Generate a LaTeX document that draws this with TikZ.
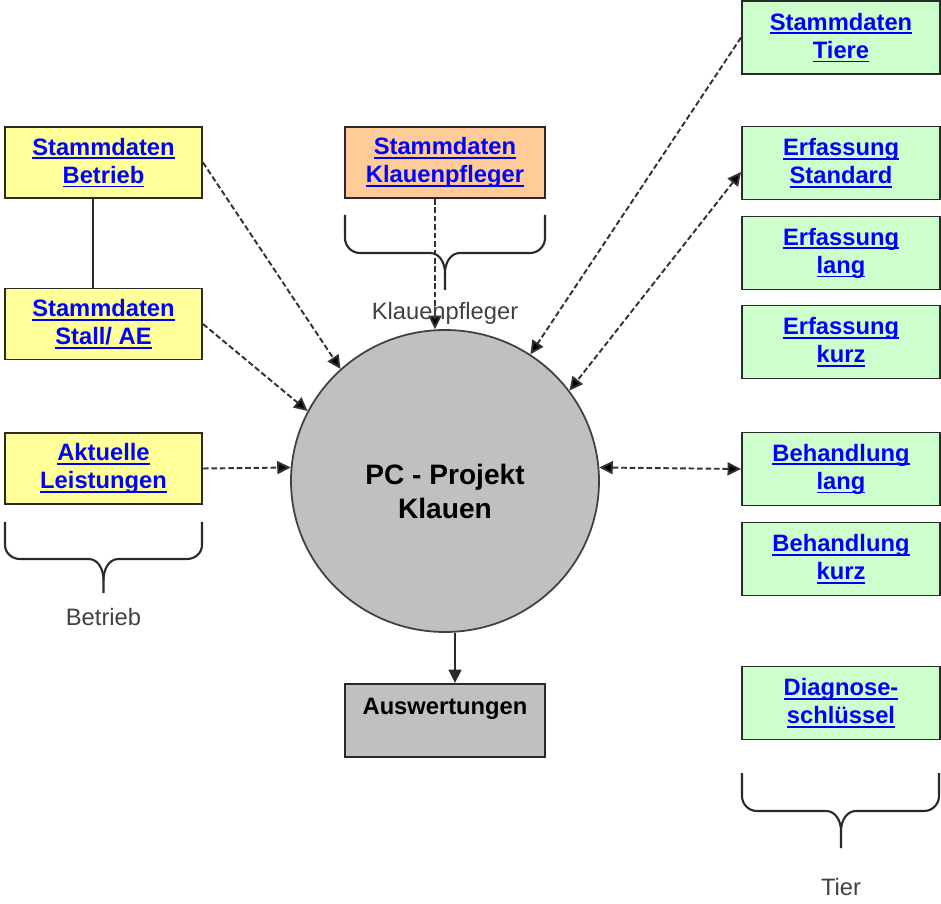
\documentclass[tikz,border=0pt]{standalone}
\usepackage{fontspec}
\setmainfont{Liberation Sans}
\usetikzlibrary{positioning,arrows.meta,calc,shapes.geometric}
\definecolor{yellow100}{HTML}{FFFF99}
\definecolor{orange200}{HTML}{FFCC99}
\definecolor{green100} {HTML}{CCFFCC}
\definecolor{grey400}  {HTML}{C0C0C0}
\definecolor{grey700}  {HTML}{404040}
\definecolor{grey800}  {HTML}{2A2A2A}
\definecolor{link600}  {HTML}{0000FF}
\newsavebox{\lnkbox}
\newcommand{\lnk}[1]{\sbox{\lnkbox}{#1}%
  \rlap{\rule[-2.3pt]{\wd\lnkbox}{0.9pt}}\usebox{\lnkbox}}
\tikzset{
  box/.style  ={draw=grey800, line width=1.1pt, fill=yellow100,
                minimum width=3.94cm, minimum height=1.42cm,
                align=center, inner sep=2pt, text=link600,
                font=\bfseries\fontsize{13.5}{16}\selectfont},
  boxo/.style ={box, fill=orange200, minimum width=4cm},
  boxg/.style ={box, fill=green100, minimum width=3.96cm,
                minimum height=1.46cm},
  boxp/.style ={box, fill=grey400, text=black, minimum width=4cm,
                minimum height=1.46cm, text height=0.35cm,
                text depth=0.59cm},
  pc/.style   ={ellipse, draw=grey700, line width=1pt, fill=grey400,
                minimum width=6.16cm, minimum height=6.04cm,
                inner sep=0pt, align=center,
                font=\bfseries\fontsize{16}{19}\selectfont},
  ar/.style   ={-{Triangle[length=2.7mm,width=2.6mm,fill=black]},
                draw=black!80, line width=1.1pt,
                dash pattern=on 3.2pt off 1.6pt},
  arb/.style  ={ar, {Triangle[length=2.7mm,width=2.6mm,fill=black]}-{Triangle[length=2.7mm,width=2.6mm,fill=black]}},
  ars/.style  ={-{Triangle[length=2.7mm,width=2.6mm]}, draw=grey800,
                line width=1pt},
  brc/.style  ={draw=grey800, line width=1.2pt},
  tag/.style  ={font=\fontsize{13.5}{16}\selectfont, text=grey700,
                inner sep=1pt}
}
\begin{document}
\begin{tikzpicture}
\useasboundingbox (0,0) rectangle (18.82,-18.08);
% Betrieb
\node[box] (betr) at (2.07,-3.25) {\lnk{Stammdaten}\\\lnk{Betrieb}};
\node[box] (stall) at (2.07,-6.48) {\lnk{Stammdaten}\\\lnk{Stall/ AE}};
\node[box] (akt) at (2.07,-9.37) {\lnk{Aktuelle}\\\lnk{Leistungen}};
\draw[grey800, line width=0.9pt] ([xshift=-0.21cm]betr.south)
  -- ([xshift=-0.21cm]stall.north);
% Klauenpfleger
\node[boxo] (kp) at (8.9,-3.25) {\lnk{Stammdaten}\\\lnk{Klauenpfleger}};
% Tier
\node[boxg] (tiere) at (16.82,-0.75) {\lnk{Stammdaten}\\\lnk{Tiere}};
\node[boxg] (erfs) at (16.82,-3.26) {\lnk{Erfassung}\\\lnk{Standard}};
\node[boxg] (erfl) at (16.82,-5.06) {\lnk{Erfassung}\\\lnk{lang}};
\node[boxg] (erfk) at (16.82,-6.84) {\lnk{Erfassung}\\\lnk{kurz}};
\node[boxg] (behl) at (16.82,-9.38) {\lnk{Behandlung}\\\lnk{lang}};
\node[boxg] (behk) at (16.82,-11.18) {\lnk{Behandlung}\\\lnk{kurz}};
\node[boxg] (diag) at (16.82,-14.06) {\lnk{Diagnose-}\\\lnk{schlüssel}};
% Projekt
\node[pc] (pc) at (8.9,-9.62) {\raisebox{-0.28cm}[\height][\depth]{%
  \begin{tabular}{@{}c@{}}PC - Projekt\\Klauen\end{tabular}}};
\node[boxp] (ausw) at (8.9,-14.41) {Auswertungen};
% connectors
\draw[ar] (betr.east) -- (pc.133);
\draw[ar] (stall.east) -- (pc.153);
\draw[ar] (akt.east) -- (pc.175);
\draw[ar] ([xshift=-0.2cm]kp.south) -- ([xshift=-0.2cm]pc.north);
\draw[ar] (tiere.west) -- (pc.56);
\draw[arb] ([yshift=-0.18cm]erfs.west) -- (pc.36);
\draw[arb] (behl.west) -- (pc.5);
\draw[ars] ([xshift=0.2cm]pc.south) -- ([xshift=0.2cm]ausw.north);
% braces
\draw[brc] (6.9,-4.3) -- (6.9,-4.76) to[out=-90,in=180] (7.2,-5.06)
  -- (8.6,-5.06) to[out=0,in=90] (8.9,-5.46) -- (8.9,-5.8);
\draw[brc] (10.9,-4.3) -- (10.9,-4.76) to[out=-90,in=0] (10.6,-5.06)
  -- (9.2,-5.06) to[out=180,in=90] (8.9,-5.46);
\node[tag] (lkp) at (8.9,-6.26) {Klauenpfleger};
\draw[brc] (0.1,-10.44) -- (0.1,-10.9) to[out=-90,in=180] (0.4,-11.18)
  -- (1.77,-11.18) to[out=0,in=90] (2.07,-11.6) -- (2.07,-11.86);
\draw[brc] (4.04,-10.44) -- (4.04,-10.9) to[out=-90,in=0] (3.74,-11.18)
  -- (2.37,-11.18) to[out=180,in=90] (2.07,-11.6);
\node[tag] (lbetr) at (2.07,-12.34) {Betrieb};
\draw[brc] (14.84,-15.46) -- (14.84,-15.92) to[out=-90,in=180] (15.14,-16.22)
  -- (16.52,-16.22) to[out=0,in=90] (16.82,-16.62) -- (16.82,-16.96);
\draw[brc] (18.78,-15.46) -- (18.78,-15.92) to[out=-90,in=0] (18.48,-16.22)
  -- (17.12,-16.22) to[out=180,in=90] (16.82,-16.62);
\node[tag] (ltier) at (16.82,-17.74) {Tier};
\end{tikzpicture}
\end{document}
